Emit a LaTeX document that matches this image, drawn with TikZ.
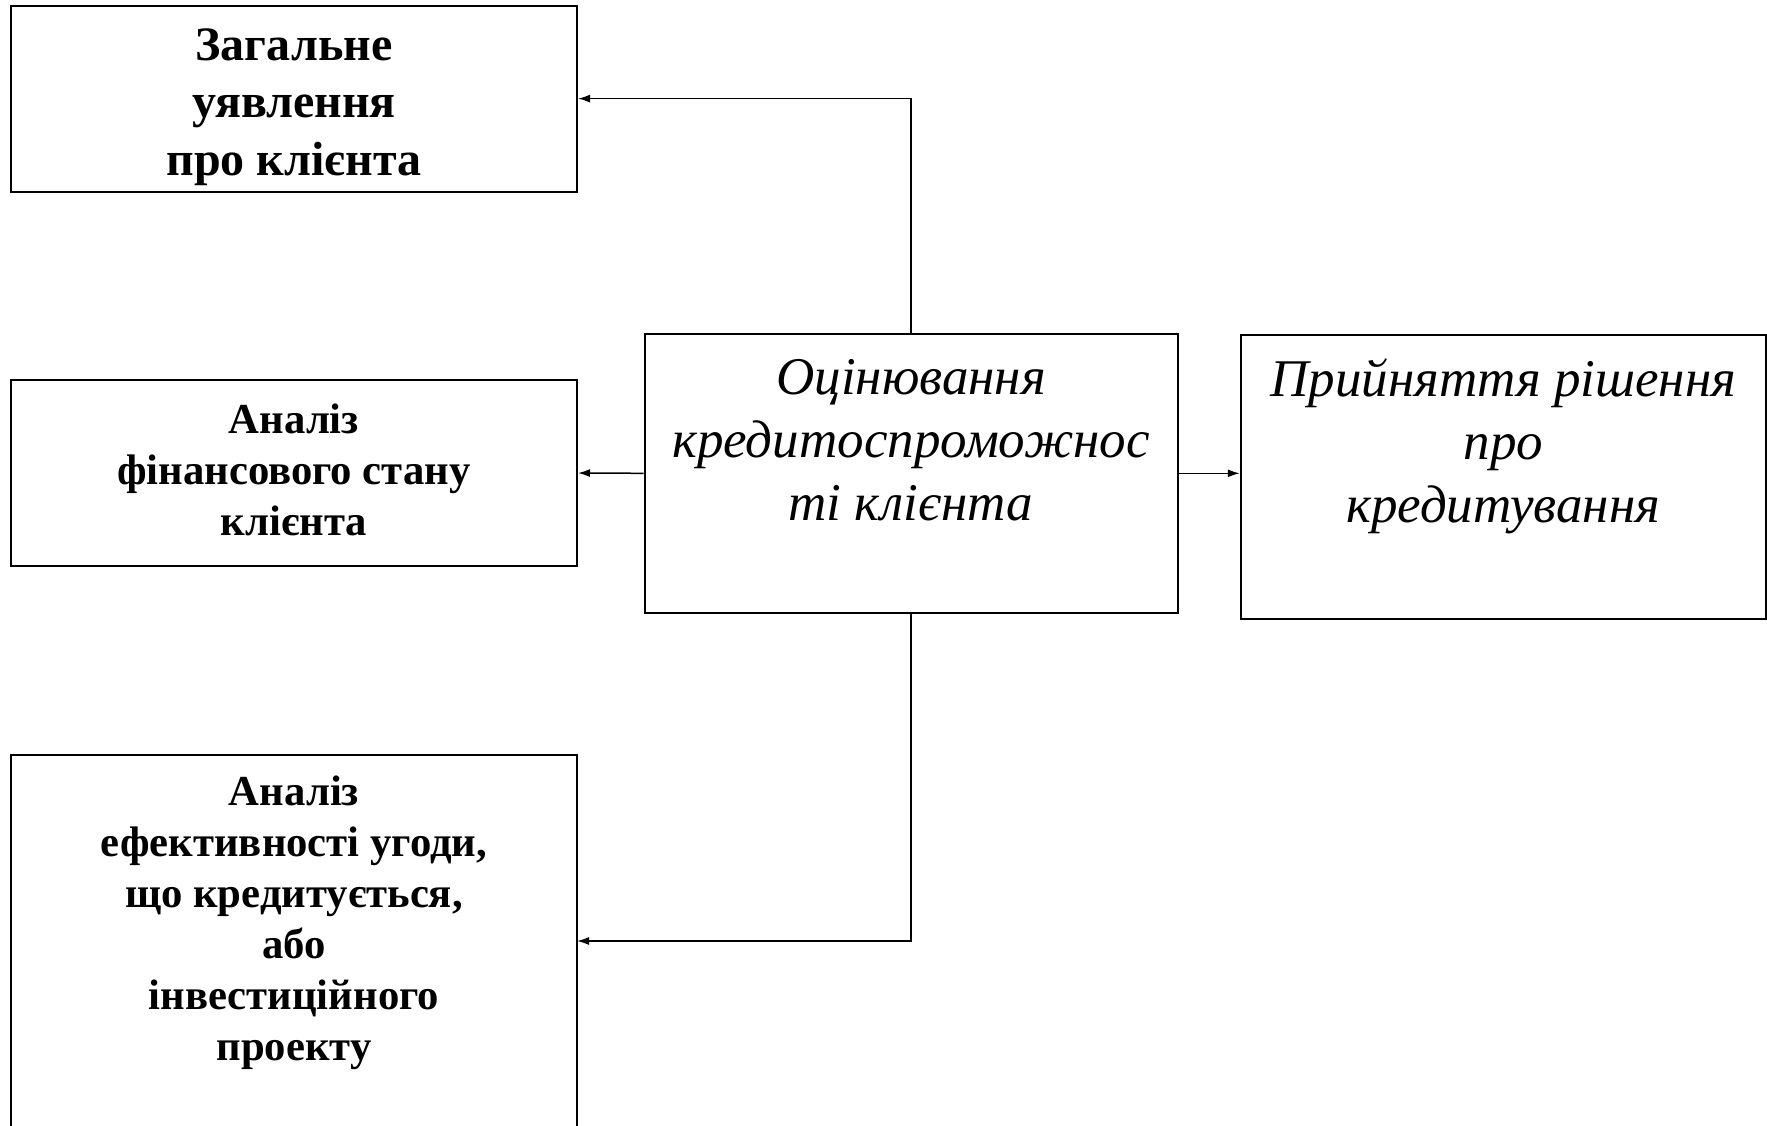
\documentclass[tikz,border=0pt]{standalone}
\usepackage{fontspec}
\setmainfont{Liberation Serif}
\usetikzlibrary{arrows.meta}
\begin{document}
\begin{tikzpicture}[x=1pt,y=-1pt,
  box/.style={draw,line width=2pt,rectangle,inner sep=0pt},
  lbl/.style={align=center,inner sep=0pt},
  arr/.style={line width=1.5pt,-{Latex[length=12pt,width=8pt]}},
  bigb/.style={font=\fontsize{48}{57.5}\selectfont\bfseries},
  smb/.style={font=\fontsize{42.7}{51}\selectfont\bfseries},
  itl/.style={font=\fontsize{53}{63}\selectfont\itshape}]
\useasboundingbox[fill=white] (0,0) rectangle (1767,1125);
\node[box,minimum width=566pt,minimum height=186pt] (b1) at (294,98.6) {};
\node[box,minimum width=566pt,minimum height=186pt] (b2) at (294,473) {};
\node[box,minimum width=566pt,minimum height=380pt] (b3) at (294,945) {};
\node[box,minimum width=533pt,minimum height=279.4pt] (c) at (911,473.3) {};
\node[box,minimum width=525pt,minimum height=284pt] (r) at (1503.3,476.7) {};
\node[lbl,bigb] (t1) at (294,107) {Загальне\\уявлення\\про клієнта};
\node[lbl,smb] (t2) at (294,469.5) {Аналіз\\фінансового стану\\клієнта};
\node[lbl,smb] (t3) at (294,922.5) {Аналіз\\ефективності угоди,\\що кредитується,\\або\\інвестиційного\\проекту};
\node[lbl,itl] (tc) at (911,440.6) {Оцінювання\\кредитоспроможнос\\ті клієнта};
\node[lbl,itl] (tr) at (1503.3,446) {Прийняття рішення\\про\\кредитування};
\coordinate (b3in) at (577,941);
\draw[arr] (c.north) |- (b1.east);
\draw[arr] (c.west) -- (b2.east);
\draw[arr] (c.east) -- (c.east -| r.west);
\draw[arr] (c.south) |- (b3in);
\end{tikzpicture}
\end{document}
